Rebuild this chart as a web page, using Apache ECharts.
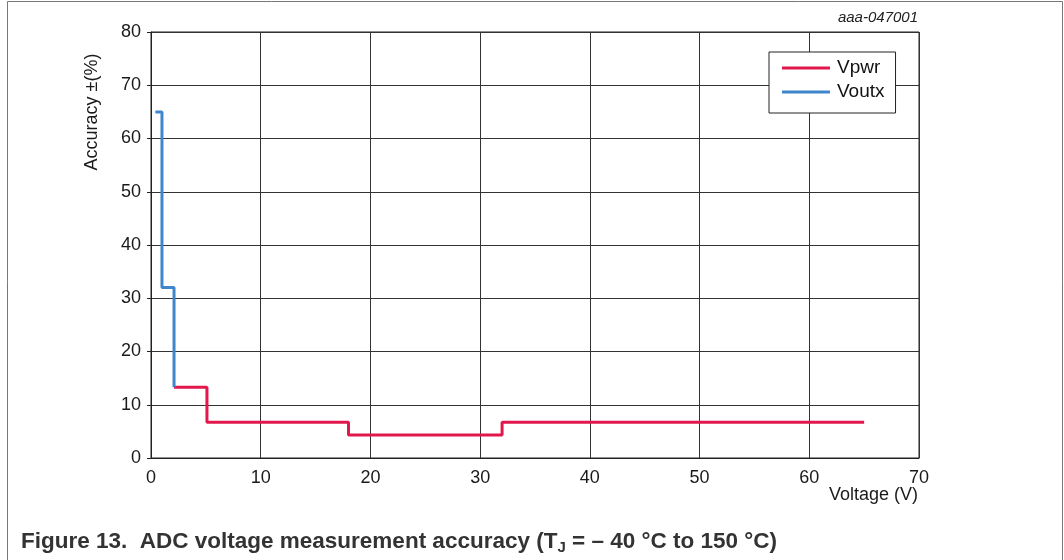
<!DOCTYPE html>
<html>
<head>
<meta charset="utf-8">
<script src="https://cdn.jsdelivr.net/npm/echarts@6/dist/echarts.min.js"></script>
<style>
  html, body { margin: 0; padding: 0; background: #fff; }
  #chart { width: 1064px; height: 560px; }
</style>
</head>
<body>
<div id="chart"></div>
<script>
// step corners
const vpwrVolt = [2.1, 5.1, 5.1, 18, 18, 32, 32, 65];
const vpwrAcc = [13.3, 13.3, 6.7, 6.7, 4.3, 4.3, 6.7, 6.7];
const voutxVolt = [0.4, 1.0, 1.0, 2.1, 2.1];
const voutxAcc = [65, 65, 32, 32, 13.3];
const xTicks = [0, 10, 20, 30, 40, 50, 60, 70];
const yTicks = [0, 10, 20, 30, 40, 50, 60, 70, 80];

const font = 'Liberation Sans, Arial, sans-serif';
const toPairs = (xs, ys) => xs.map((x, i) => [x, ys[i]]);

const myChart = echarts.init(document.getElementById('chart'));
const option = {
  animation: false,
  backgroundColor: '#fff',
  textStyle: { fontFamily: font },
  grid: {
    left: 151, right: 145, top: 32, bottom: 102,
    show: true, borderColor: '#222', borderWidth: 1
  },
  xAxis: {
    type: 'value',
    min: xTicks[0], max: xTicks[xTicks.length - 1], interval: 10,
    axisLine: { show: true, lineStyle: { color: '#222', width: 1 } },
    axisTick: { show: false },
    axisLabel: { color: '#1a1a1a', fontSize: 18, margin: 11, fontFamily: font },
    splitLine: { show: true, lineStyle: { color: '#333', width: 1 } }
  },
  yAxis: {
    type: 'value',
    min: yTicks[0], max: yTicks[yTicks.length - 1], interval: 10,
    axisLine: { show: true, lineStyle: { color: '#222', width: 1 } },
    axisTick: { show: true, inside: false, length: 4, lineStyle: { color: '#222' } },
    axisLabel: { color: '#1a1a1a', fontSize: 18, margin: 10, fontFamily: font },
    splitLine: { show: true, lineStyle: { color: '#333', width: 1 } }
  },
  legend: {
    orient: 'vertical',
    left: 769, top: 52,
    padding: [5, 11, 10, 13],
    backgroundColor: '#fff',
    borderColor: '#222', borderWidth: 1, borderRadius: 0,
    itemWidth: 48, itemHeight: 3, itemGap: 2,
    icon: 'rect',
    textStyle: { color: '#111', fontSize: 19, fontFamily: font, lineHeight: 22, padding: [0, 0, 0, 2] },
    data: ['Vpwr', 'Voutx']
  },
  graphic: [
    {
      type: 'rect', silent: true, z: -1,
      shape: { x: 7.5, y: 1.5, width: 1055, height: 600 },
      style: { fill: 'none', stroke: '#777', lineWidth: 1 }
    },
    {
      type: 'text', x: 918, y: 18,
      style: { text: 'aaa-047001', font: 'italic 15px ' + font, fill: '#222', align: 'right', verticalAlign: 'middle' }
    },
    {
      type: 'text', x: 92, y: 112, rotation: Math.PI / 2,
      style: { text: 'Accuracy ±(%)', font: '18px ' + font, fill: '#1a1a1a', align: 'center', verticalAlign: 'middle' }
    },
    {
      type: 'text', x: 918, y: 495,
      style: { text: 'Voltage (V)', font: '18px ' + font, fill: '#1a1a1a', align: 'right', verticalAlign: 'middle' }
    },
    {
      type: 'text', x: 21, y: 542,
      style: {
        text: '{b|Figure 13.  ADC voltage measurement accuracy (T}{s|J}{b| = – 40 °C to 150 °C)}',
        verticalAlign: 'middle',
        rich: {
          b: { font: 'bold 22.5px ' + font, fill: '#333' },
          s: { font: 'bold 15px ' + font, fill: '#333', padding: [11, 0, 0, 0] }
        }
      }
    }
  ],
  series: [
    {
      name: 'Vpwr', type: 'line',
      data: toPairs(vpwrVolt, vpwrAcc),
      showSymbol: false, symbol: 'none',
      lineStyle: { color: '#e2184c', width: 3 },
      itemStyle: { color: '#e2184c' }
    },
    {
      name: 'Voutx', type: 'line',
      data: toPairs(voutxVolt, voutxAcc),
      showSymbol: false, symbol: 'none',
      lineStyle: { color: '#3f86cb', width: 3 },
      itemStyle: { color: '#3f86cb' }
    }
  ]
};
myChart.setOption(option);
</script>
</body>
</html>
